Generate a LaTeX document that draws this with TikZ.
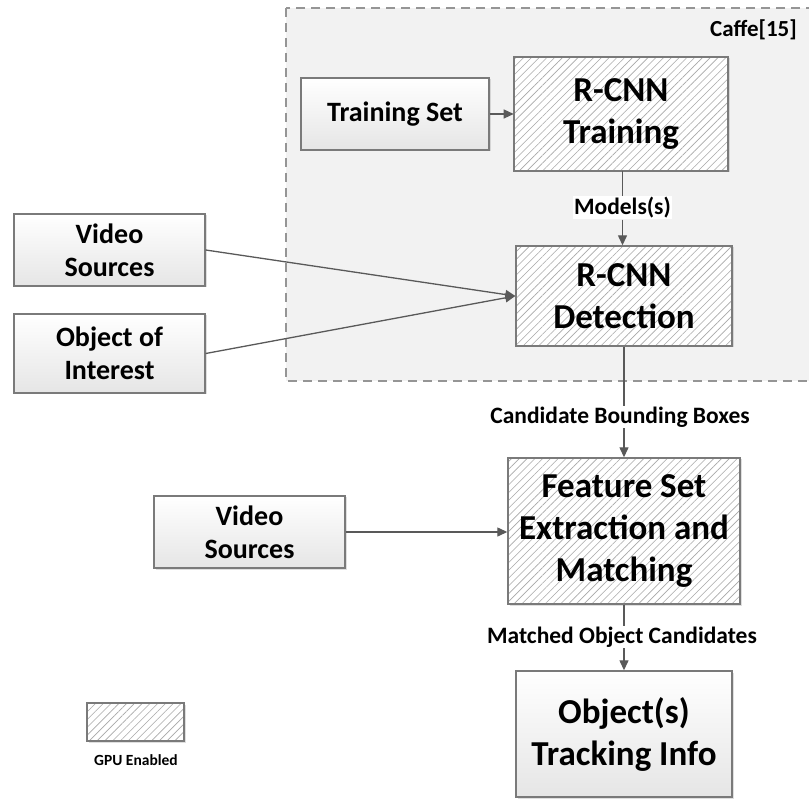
\documentclass[tikz,border=0pt]{standalone}
\usepackage{fontspec}
\setmainfont{Carlito}
\usetikzlibrary{arrows.meta,patterns.meta,shadows}
\definecolor{bordercol}{HTML}{7A7A7A}
\definecolor{linecol}{HTML}{595959}
\definecolor{caffefill}{HTML}{F2F2F2}
\definecolor{hatchcol}{HTML}{A8A8A8}
\tikzset{
  boxbase/.style={draw=bordercol, line width=1.4pt, inner sep=0pt, align=center,
    text=black,
    drop shadow={opacity=0.25, shadow xshift=1.5pt, shadow yshift=-1.5pt, fill=gray}},
  plainbox/.style={boxbase, top color=white, bottom color=black!10},
  hatchbox/.style={boxbase, preaction={fill=white},
    pattern={Lines[angle=45,distance=5.5pt,line width=0.6pt]}, pattern color=hatchcol},
  midtext/.style={font=\bfseries\fontsize{28}{33}\selectfont},
  bigtext/.style={font=\bfseries\fontsize{35}{42}\selectfont},
  lbl/.style={fill=white, inner sep=1pt, font=\bfseries\fontsize{23.5}{27}\selectfont},
  conn/.style={draw=linecol, line width=1.3pt},
  arr/.style={conn, -{Triangle[length=10pt,width=9pt]}}
}
\begin{document}
\begin{tikzpicture}[x=1pt,y=-1pt]
\useasboundingbox (0,0) rectangle (809,799);
% Caffe region
\draw[fill=caffefill, draw=bordercol!80, line width=1.5pt, dash pattern=on 9pt off 6pt]
  (286,8) rectangle (830,381);
\node[anchor=east, inner sep=0pt, font=\bfseries\fontsize{23}{27}\selectfont] (caffe) at (797,30) {Caffe[15]};

% nodes
\node[plainbox, minimum width=188pt, minimum height=72pt, midtext] (tset) at (395,114) {Training Set};
\node[hatchbox, minimum width=214pt, minimum height=114pt, bigtext] (train) at (621,114) {R-CNN\\Training};
\node[hatchbox, minimum width=216pt, minimum height=100pt, bigtext] (det) at (624,296) {R-CNN\\Detection};
\node[plainbox, minimum width=191pt, minimum height=72pt, midtext] (vid1) at (109.5,250) {Video\\Sources};
\node[plainbox, minimum width=191pt, minimum height=79pt, midtext] (obj) at (109.5,353.5) {Object of\\Interest};
\node[hatchbox, minimum width=232pt, minimum height=146pt, bigtext] (feat) at (624,531) {Feature Set\\Extraction and\\Matching};
\node[plainbox, minimum width=191pt, minimum height=72pt, midtext] (vid2) at (249.5,532) {Video\\Sources};
\node[plainbox, minimum width=216pt, minimum height=126pt, bigtext] (out) at (624,734) {Object(s)\\Tracking Info};

% legend
\node[hatchbox, minimum width=97pt, minimum height=38pt] (legend) at (135.5,722) {};
\node[font=\bfseries\fontsize{15.5}{18}\selectfont, inner sep=0pt] (gpu) at (136,760) {GPU Enabled};

% labels
\node[lbl] (models) at (622.5,208) {Models(s)};
\node[lbl] (cand) at (620,417) {Candidate Bounding Boxes};
\node[lbl] (match) at (622,637) {Matched Object Candidates};

% connectors
\draw[arr] (tset.east) -- (train.west |- tset.east);
\draw[conn] (train.south -| models) -- (models.north);
\draw[arr] (models.south) -- (det.north -| models);
\draw[arr] (vid1.east) -- (det.west);
\draw[arr] (obj.east) -- (det.west);
\draw[conn] (det.south) -- (det.south |- cand.north);
\draw[arr] (det.south |- cand.south) -- (feat.north);
\draw[arr] (vid2.east) -- (feat.west |- vid2.east);
\draw[conn] (feat.south) -- (feat.south |- match.north);
\draw[arr] (feat.south |- match.south) -- (out.north);
\end{tikzpicture}
\end{document}
